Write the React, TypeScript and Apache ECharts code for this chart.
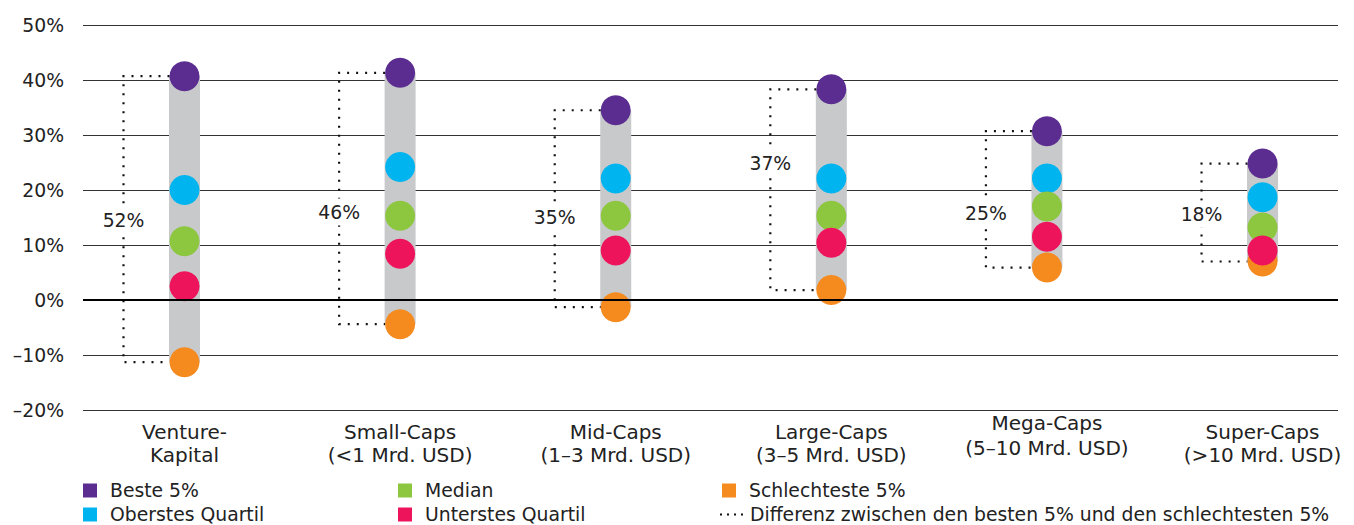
import React, { useEffect, useRef } from "react";
import * as echarts from "echarts";

const categories = [
  "Venture-\nKapital",
  "Small-Caps\n(<1 Mrd. USD)",
  "Mid-Caps\n(1–3 Mrd. USD)",
  "Large-Caps\n(3–5 Mrd. USD)",
  "Mega-Caps\n(5–10 Mrd. USD)",
  "Super-Caps\n(>10 Mrd. USD)",
];
const best5 = [40.7, 41.3, 34.5, 38.3, 30.7, 24.8];
const topQuartile = [20.0, 24.2, 22.1, 22.1, 22.1, 18.7];
const median = [10.7, 15.3, 15.3, 15.3, 17.0, 13.2];
const bottomQuartile = [2.5, 8.4, 9.0, 10.4, 11.5, 9.0];
const worst5 = [-11.3, -4.4, -1.3, 1.8, 5.9, 7.0];
const spreadLabels = ["52%", "46%", "35%", "37%", "25%", "18%"];
const spreadLabelAt = [14.5, 16.0, 15.0, 24.9, 15.8, 15.6];

const FONT = "DejaVu Sans";
const TXT = "#222";
const FS = 18.8;
const FS_CAT = 20;

const names = {
  best: "Beste 5%",
  top: "Oberstes Quartil",
  med: "Median",
  bot: "Unterstes Quartil",
  worst: "Schlechteste 5%",
  diff: "Differenz zwischen den besten 5% und den schlechtesten 5%",
};

export default function App() {
  const ref = useRef<HTMLDivElement>(null);
  useEffect(() => {
    const chart = echarts.init(ref.current!, null, { renderer: "svg" });
    const pts = (arr: number[]) => arr.map((v, i) => [i, v]);
    const legendText = (pad: number) => ({
      fontFamily: FONT,
      fontSize: FS,
      color: TXT,
      lineHeight: 19,
      padding: [0, 0, 0, pad],
    });
    const sqLegend = (name: string, left: number, top: number) => ({
      data: [{ name, icon: "rect" }],
      left,
      top,
      padding: 0,
      itemWidth: 14,
      itemHeight: 14,
      selectedMode: false,
      textStyle: legendText(8),
    });
    const option: any = {
      animation: false,
      backgroundColor: "#fff",
      grid: { left: 83, right: 16, top: 25, bottom: 115 },
      legend: [
        sqLegend(names.best, 83, 481),
        sqLegend(names.top, 83, 505),
        sqLegend(names.med, 398, 481),
        sqLegend(names.bot, 398, 505),
        sqLegend(names.worst, 722, 481),
        {
          data: [
            {
              name: names.diff,
              icon: "path://M0,0h2v2h-2zM7,0h2v2h-2zM14,0h2v2h-2zM21,0h2v2h-2z",
            },
          ],
          left: 720,
          top: 505,
          padding: 0,
          itemWidth: 23,
          itemHeight: 2,
          selectedMode: false,
          itemStyle: { color: "#111" },
          textStyle: legendText(2),
        },
      ],
      xAxis: {
        type: "value",
        min: -0.4708,
        max: 5.35,
        axisLine: { show: false },
        axisTick: { show: false },
        splitLine: { show: false },
        axisLabel: {
          customValues: [0, 1, 2, 3, 4, 5],
          formatter: (v: number) => {
            const i = Math.round(v);
            if (i === 4) {
              const [l1, l2] = categories[i].split("\n");
              return "{a|" + l1 + "}\n{b|" + l2 + "}";
            }
            return categories[i];
          },
          rich: {
            a: { lineHeight: 6, fontFamily: FONT, fontSize: FS_CAT, color: TXT },
            b: { lineHeight: 44, fontFamily: FONT, fontSize: FS_CAT, color: TXT },
          },
          fontFamily: FONT,
          fontSize: FS_CAT,
          lineHeight: 23,
          color: TXT,
          margin: 10,
        },
      },
      yAxis: {
        type: "value",
        min: -20,
        max: 50,
        interval: 10,
        axisLine: { show: false },
        axisTick: { show: false },
        splitLine: { lineStyle: { color: "#333", width: 1 } },
        axisLabel: {
          formatter: (v: number) => (v < 0 ? "–" + Math.abs(v) + "%" : v + "%"),
          fontFamily: FONT,
          fontSize: FS,
          color: TXT,
          margin: 19,
        },
      },
      series: [
        {
          type: "line",
          name: "zero",
          data: [],
          z: 1,
          silent: true,
          markLine: {
            silent: true,
            symbol: ["none", "none"],
            label: { show: false },
            lineStyle: { color: "#000", width: 2, type: "solid" },
            data: [{ yAxis: 0 }],
          },
        },
        {
          type: "custom",
          name: "range",
          silent: true,
          data: best5.map((v, i) => [i, v, worst5[i]]),
          renderItem: (params: any, api: any) => {
            const i = api.value(0);
            const a = api.coord([i, api.value(1)]);
            const b = api.coord([i, api.value(2)]);
            return {
              type: "rect",
              shape: { x: a[0] - 15.5, y: a[1], width: 31, height: b[1] - a[1] },
              style: { fill: "#c8c9cb" },
            };
          },
        },
        {
          type: "custom",
          name: names.diff,
          silent: true,
          itemStyle: { color: "#111" },
          data: best5.map((v, i) => [i, v, worst5[i], spreadLabelAt[i]]),
          renderItem: (params: any, api: any) => {
            const i = api.value(0);
            const a = api.coord([i, api.value(1)]);
            const b = api.coord([i, api.value(2)]);
            const l = api.coord([i, api.value(3)]);
            const xd = a[0] - 61;
            const xe = a[0] - 15;
            return {
              type: "group",
              children: [
                {
                  type: "polyline",
                  shape: { points: [[xe, a[1]], [xd, a[1]], [xd, b[1]], [xe, b[1]]] },
                  style: { stroke: "#111", lineWidth: 2.2, lineDash: [2, 7], fill: "none" },
                },
                {
                  type: "text",
                  x: xd,
                  y: l[1],
                  style: {
                    text: spreadLabels[params.dataIndex],
                    align: "center",
                    verticalAlign: "middle",
                    fill: TXT,
                    fontFamily: FONT,
                    fontSize: FS,
                    backgroundColor: "#fff",
                    padding: [4, 1],
                  },
                },
              ],
            };
          },
        },
        { type: "scatter", name: names.worst, data: pts(worst5), symbolSize: 30, itemStyle: { color: "#f58a1f", opacity: 1 } },
        { type: "scatter", name: names.best, data: pts(best5), symbolSize: 30, itemStyle: { color: "#5b2d90", opacity: 1 } },
        { type: "scatter", name: names.top, data: pts(topQuartile), symbolSize: 30, itemStyle: { color: "#00b5ef", opacity: 1 } },
        { type: "scatter", name: names.med, data: pts(median), symbolSize: 30, itemStyle: { color: "#8dc63f", opacity: 1 } },
        { type: "scatter", name: names.bot, data: pts(bottomQuartile), symbolSize: 30, itemStyle: { color: "#ed145b", opacity: 1 } },
      ],
    };
    chart.setOption(option);
    return () => chart.dispose();
  }, []);
  return (
    <div
      ref={ref}
      style={{ position: "absolute", left: 0, top: 0, width: 1354, height: 525 }}
    />
  );
}
